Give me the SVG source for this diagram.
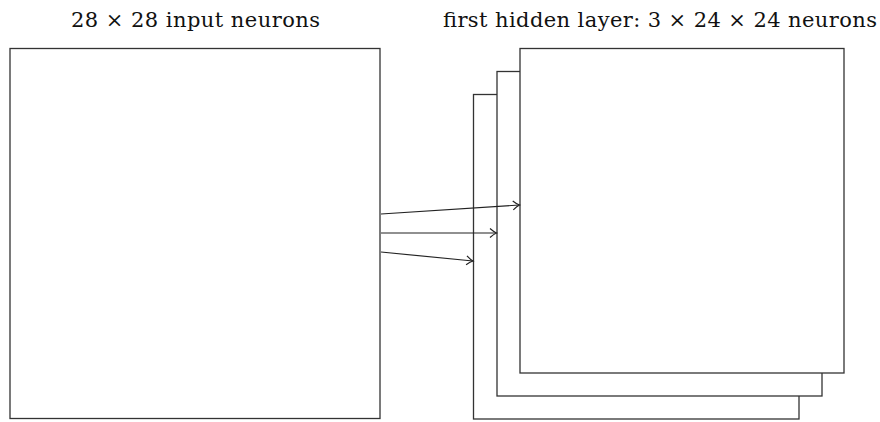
<svg xmlns="http://www.w3.org/2000/svg" width="880" height="422" viewBox="0 0 880 422">
<style>
.box{fill:#fff;stroke:#333;stroke-width:1.3}
.lbl{font-family:"DejaVu Serif","Liberation Serif",serif;font-size:21px;fill:#111}
.conn{stroke:#222;stroke-width:1.2;fill:none;marker-end:url(#arr)}
</style>
<defs>
<marker id="arr" markerUnits="userSpaceOnUse" markerWidth="12" markerHeight="12" viewBox="-8 -6 10 12" refX="0" refY="0" orient="auto">
<path d="M-6.5,-4.5 Q-2.5,-1 0,0 Q-2.5,1 -6.5,4.5" fill="none" stroke="#222" stroke-width="1.2"/>
</marker>
</defs>
<rect width="880" height="422" fill="#fff"/>
<g id="input">
<text class="lbl" x="71" y="26.5" textLength="249" lengthAdjust="spacing">28 × 28 input neurons</text>
<rect class="box" x="10" y="48.5" width="370" height="370"/>
</g>
<g id="hidden">
<text class="lbl" x="443" y="26.5" textLength="434" lengthAdjust="spacing">first hidden layer: 3 × 24 × 24 neurons</text>
<rect id="map3" class="box" x="473.5" y="94.5" width="325.5" height="324.5"/>
<rect id="map2" class="box" x="497" y="71.5" width="325" height="324.5"/>
<rect id="map1" class="box" x="520" y="48.5" width="324" height="324.5"/>
</g>
<g id="connectors">
<line class="conn" x1="381" y1="214" x2="519.5" y2="205"/>
<line class="conn" x1="381" y1="233" x2="496.5" y2="233"/>
<line class="conn" x1="381" y1="252" x2="473" y2="261"/>
</g>
</svg>
